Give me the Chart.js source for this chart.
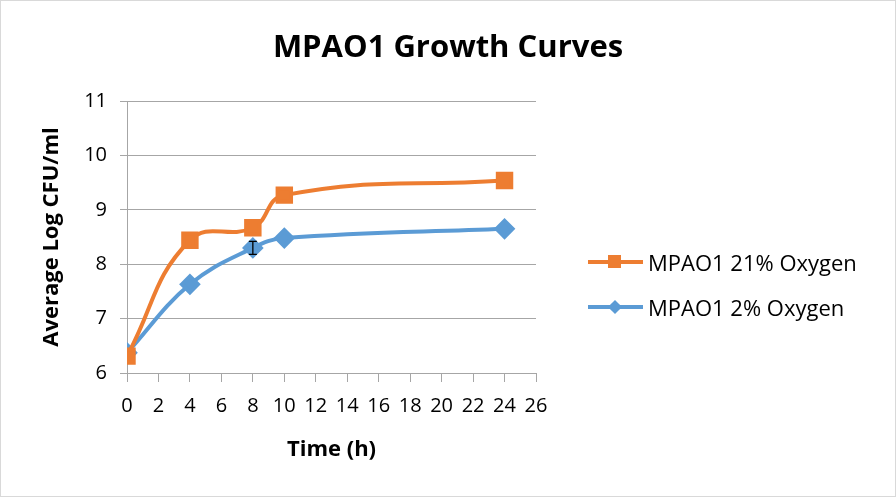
<!DOCTYPE html>
<html>
<head>
<meta charset="utf-8">
<script src="https://cdn.jsdelivr.net/npm/chart.js@4.4.0/dist/chart.umd.min.js"></script>
<style>
    body { margin: 0; background: #fff; }
    #wrap { position: relative; width: 896px; height: 497px; box-sizing: border-box; border: 1px solid #d9d9d9; }
    #growthChart { position: absolute; left: 0; top: 0; }
    #title { position: absolute; left: 0; width: 894px; top: 24px; text-align: center; font-family: 'Open Sans', sans-serif; font-weight: bold; font-size: 31px; line-height: 40px; color: #000; }
    .leg { position: absolute; left: 587px; height: 28px; font-family: 'Open Sans', sans-serif; font-size: 22px; color: #000; white-space: nowrap; }
    .leg .ln { position: absolute; left: 0; top: 12px; width: 55px; height: 4px; }
    .leg .mk { position: absolute; }
    .leg span.txt { position: absolute; left: 60px; top: 0; line-height: 28px; }
</style>
</head>
<body>
<div id="wrap">
    <canvas id="growthChart" width="894" height="495"></canvas>
    <div id="title">MPAO1 Growth Curves</div>
    <div class="leg" style="top: 247px;">
        <div class="ln" style="background:#ED7D31;"></div>
        <div class="mk" style="left: 20px; top: 7px; width: 13px; height: 13px; background:#ED7D31;"></div>
        <span class="txt">MPAO1 21% Oxygen</span>
    </div>
    <div class="leg" style="top: 292px;">
        <div class="ln" style="background:#5B9BD5;"></div>
        <div class="mk" style="left: 22px; top: 9px; width: 10px; height: 10px; background:#5B9BD5; transform: rotate(45deg);"></div>
        <span class="txt">MPAO1 2% Oxygen</span>
    </div>
</div>
<script>
// Sampling times (h)
const hours = [0, 4, 8, 10, 24];

// Average log CFU/ml
const oxygen21 = [6.31, 8.44, 8.67, 9.27, 9.54];
const oxygen2 = [6.37, 7.63, 8.30, 8.48, 8.65];

// Error (+/-), only the 2% point at 8 h is visibly larger than its marker
const oxygen21Err = [0, 0, 0, 0, 0];
const oxygen2Err = [0, 0, 0.12, 0, 0];

const seriesLabels = ['MPAO1 21% Oxygen', 'MPAO1 2% Oxygen'];

const toPoints = (ys) => hours.map((h, i) => ({ x: h, y: ys[i] }));

const gridGray = '#a6a6a6';
const tickFont = { family: 'Open Sans', size: 20 };
const axisTitleFont = { family: 'Open Sans', size: 22, weight: 'bold' };

// Error bars drawn on top of the series through the chart scales
const errorBars = {
    id: 'errorBars',
    afterDatasetsDraw(chart) {
        const { ctx, scales: { x, y } } = chart;
        const errs = [oxygen21Err, oxygen2Err];
        const vals = [oxygen21, oxygen2];
        ctx.save();
        ctx.strokeStyle = '#000';
        ctx.lineWidth = 1.3;
        errs.forEach((err, d) => {
            hours.forEach((h, i) => {
                if (!err[i]) return;
                const px = x.getPixelForValue(h);
                const top = y.getPixelForValue(vals[d][i] + err[i]);
                const bot = y.getPixelForValue(vals[d][i] - err[i]);
                ctx.beginPath();
                ctx.moveTo(px, top); ctx.lineTo(px, bot);
                ctx.moveTo(px - 4, top); ctx.lineTo(px + 4, top);
                ctx.moveTo(px - 4, bot); ctx.lineTo(px + 4, bot);
                ctx.stroke();
            });
        });
        ctx.restore();
    }
};

new Chart(document.getElementById('growthChart'), {
    type: 'line',
    data: {
        datasets: [
            {
                label: seriesLabels[0],
                data: toPoints(oxygen21),
                borderColor: '#ED7D31',
                backgroundColor: '#ED7D31',
                borderWidth: 4,
                pointStyle: 'rect',
                pointRadius: 9.5,
                pointHoverRadius: 9.5,
                tension: 0.45
            },
            {
                label: seriesLabels[1],
                data: toPoints(oxygen2),
                borderColor: '#5B9BD5',
                backgroundColor: '#5B9BD5',
                borderWidth: 4,
                pointStyle: 'rectRot',
                pointRadius: 8,
                pointHoverRadius: 8,
                tension: 0.4
            }
        ]
    },
    options: {
        responsive: false,
        animation: false,
        layout: { padding: { top: 100, right: 359, bottom: 0, left: 0 } },
        plugins: {
            legend: { display: false },
            tooltip: { enabled: false },
            title: { display: false }
        },
        scales: {
            x: {
                type: 'linear',
                min: 0,
                max: 26,
                ticks: { stepSize: 2, color: '#000', font: tickFont, padding: 12, maxRotation: 0 },
                grid: { drawOnChartArea: false, drawTicks: true, tickLength: 9, color: gridGray },
                border: { color: gridGray, width: 1 },
                title: { display: true, text: 'Time (h)', color: '#000', font: axisTitleFont, padding: 33 },
                afterFit: (scale) => { scale.height = 123; }
            },
            y: {
                min: 6,
                max: 11,
                ticks: { stepSize: 1, color: '#000', font: tickFont, padding: 13 },
                grid: { color: gridGray, tickLength: 7, lineWidth: 1 },
                border: { color: gridGray, width: 1 },
                title: { display: true, text: 'Average Log CFU/ml', color: '#000', font: axisTitleFont, padding: 38 },
                afterFit: (scale) => { scale.width = 126; }
            }
        }
    },
    plugins: [errorBars]
});
</script>
</body>
</html>
